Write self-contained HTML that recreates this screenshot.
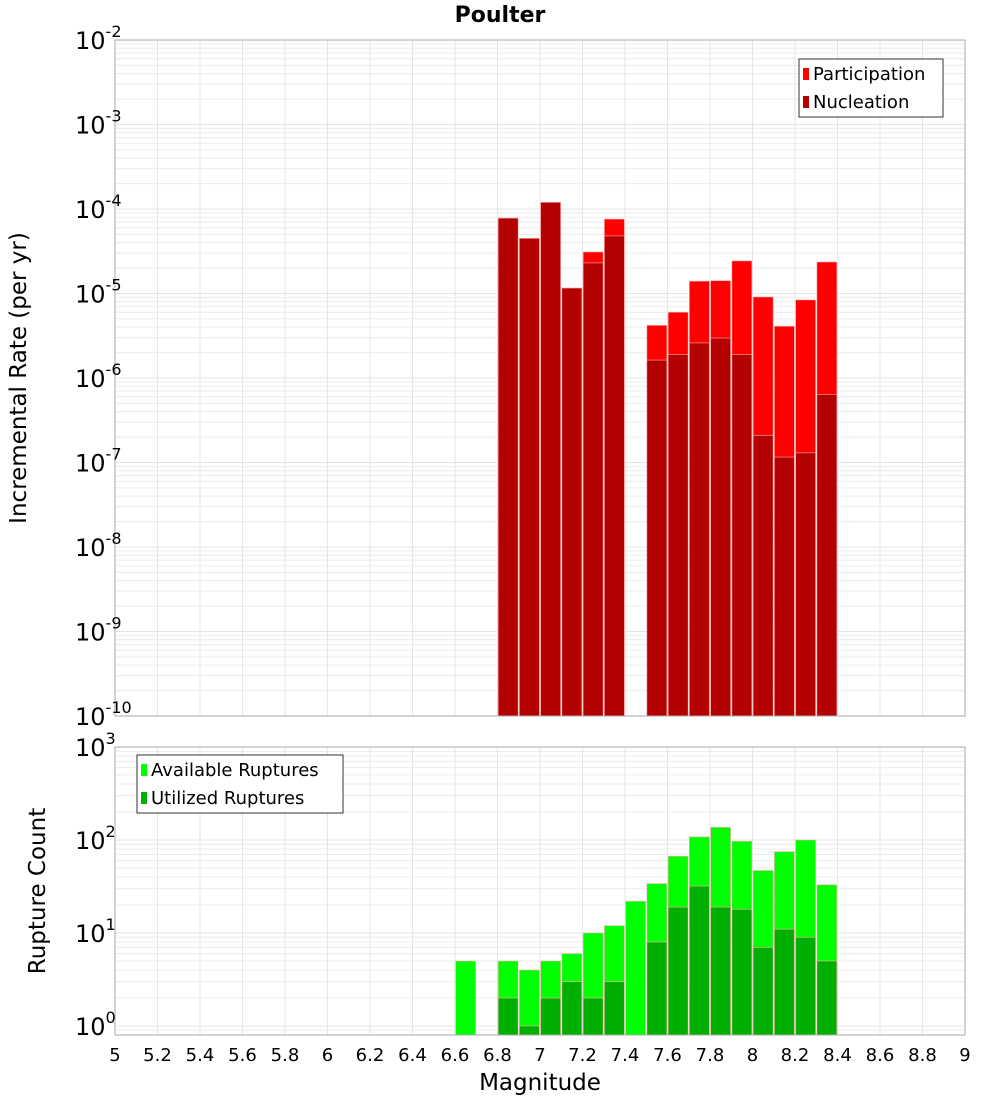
<!DOCTYPE html>
<html><head><meta charset="utf-8">
<style>
body{margin:0;background:#fff;}
svg{display:block;font-family:"DejaVu Sans","Liberation Sans",sans-serif;}
</style></head>
<body>
<svg id="chart" width="1000" height="1100" xmlns="http://www.w3.org/2000/svg">
<text x="500" y="22" text-anchor="middle" font-size="22" font-weight="bold">Poulter</text>
<text transform="translate(26,378) rotate(-90)" text-anchor="middle" font-size="23">Incremental Rate (per yr)</text>
<text transform="translate(45,891) rotate(-90)" text-anchor="middle" font-size="23">Rupture Count</text>
<text x="540" y="1090" text-anchor="middle" font-size="23">Magnitude</text>
<g id="g"></g>
</svg>
<script>
const mags = [6.65,6.85,6.95,7.05,7.15,7.25,7.35,7.45,7.55,7.65,7.75,7.85,7.95,8.05,8.15,8.25,8.35];
const participation = [0,7.8e-5,4.5e-5,1.2e-4,1.16e-5,3.1e-5,7.6e-5,0,4.2e-6,6.0e-6,1.4e-5,1.42e-5,2.43e-5,9.1e-6,4.1e-6,8.4e-6,2.36e-5];
const nucleation = [0,7.8e-5,4.5e-5,1.2e-4,1.16e-5,2.3e-5,4.8e-5,0,1.63e-6,1.9e-6,2.6e-6,2.97e-6,1.9e-6,2.1e-7,1.16e-7,1.3e-7,6.4e-7];
const available = [5,5,4,5,6,10,12,22,34,67,108,137,97,47,75,100,33];
const utilized = [0,2,1,2,3,2,3,0,8,19,32,19,18,7,11,9,5];
const xTicks = [5,5.2,5.4,5.6,5.8,6,6.2,6.4,6.6,6.8,7,7.2,7.4,7.6,7.8,8,8.2,8.4,8.6,8.8,9];
const topExps = [-2,-3,-4,-5,-6,-7,-8,-9,-10];
const botExps = [0,1,2,3];

const NS="http://www.w3.org/2000/svg";
const g=document.getElementById('g');
const X0=115,X1=965;
const xs=m=>X0+(m-5)/4*(X1-X0);
const T0=40,T1=716;
const yTop=v=>T0+(-2-Math.log10(v))*(T1-T0)/8;
const B0=747,B1=1035,BPD=93;
const yBot=v=>B0+(3-Math.log10(v))*BPD;
function el(tag,attrs,parent){const e=document.createElementNS(NS,tag);for(const k in attrs)e.setAttribute(k,attrs[k]);(parent||g).appendChild(e);return e;}

function panel(top,bot,yf,lo,hi,name){
  const pg=el('g',{});
  
  
  for(let e=lo;e<hi;e++){for(let k=1;k<10;k++){const v=k*Math.pow(10,e);const y=yf(v);if(y<top||y>bot)continue;
    el('line',{x1:X0,x2:X1,y1:y,y2:y,stroke:k==1?'#e4e4e4':'#ececec','stroke-width':1},pg);}}
  xTicks.forEach(t=>{const x=xs(t);el('line',{x1:x,x2:x,y1:top,y2:bot,stroke:'#e6e6e6','stroke-width':1},pg);});
}
panel(T0,T1,yTop,-10,-1,'top');
panel(B0,B1,yBot,-1,3,'bottom');

const bw=20;
function bar(m,v,yf,base,fill,name){
  if(!(v>0))return;
  const x=xs(m)-bw/2,y=yf(v);
  const r=el('rect',{x:x,y:y,width:bw,height:base-y,fill:fill,stroke:'#ffb0b0','stroke-width':0.6});
  
  
}
mags.forEach((m,i)=>{bar(m,participation[i],yTop,T1,'#ff0000','participation-bar');});
mags.forEach((m,i)=>{bar(m,nucleation[i],yTop,T1,'#b30000','nucleation-bar');});
mags.forEach((m,i)=>{bar(m,available[i],yBot,B1,'#00ff00','available-bar');});
mags.forEach((m,i)=>{bar(m,utilized[i],yBot,B1,'#00b000','utilized-bar');});

el('rect',{x:X0,y:T0,width:X1-X0,height:T1-T0,fill:'none',stroke:'#aaa','stroke-width':1});
el('rect',{x:X0,y:B0,width:X1-X0,height:B1-B0,fill:'none',stroke:'#aaa','stroke-width':1});

xTicks.forEach(t=>{const tx=el('text',{x:xs(t),y:1061,'text-anchor':'middle','font-size':18});tx.textContent=String(t);
  
  });
function ylab(y,e){const tx=el('text',{x:75,y:y+9,'text-anchor':'start','font-size':24});
  
  
  const a=document.createElementNS(NS,'tspan');a.textContent='10';tx.appendChild(a);
  const b=document.createElementNS(NS,'tspan');b.setAttribute('dy','-12');b.setAttribute('font-size','16');b.textContent=String(e);tx.appendChild(b);}
topExps.forEach(e=>ylab(yTop(Math.pow(10,e)),e));
botExps.forEach(e=>ylab(yBot(Math.pow(10,e)),e));

function legend(x,y,w,items,name){
  const lg=el('g',{});
  
  
  el('rect',{x:x,y:y,width:w,height:58,fill:'#fff',stroke:'#333','stroke-width':1},lg);
  items.forEach((it,i)=>{
    el('rect',{x:x+4,y:y+9+i*28,width:6,height:12,fill:it[1]},lg);
    const t=el('text',{x:x+14,y:y+21+i*28,'font-size':18},lg);t.textContent=it[0];
  });
}
legend(799,59,144,[['Participation','#ff0000'],['Nucleation','#b30000']],'top-legend');
legend(137,755,206,[['Available Ruptures','#00ff00'],['Utilized Ruptures','#00b000']],'bottom-legend');
</script>
</body></html>
